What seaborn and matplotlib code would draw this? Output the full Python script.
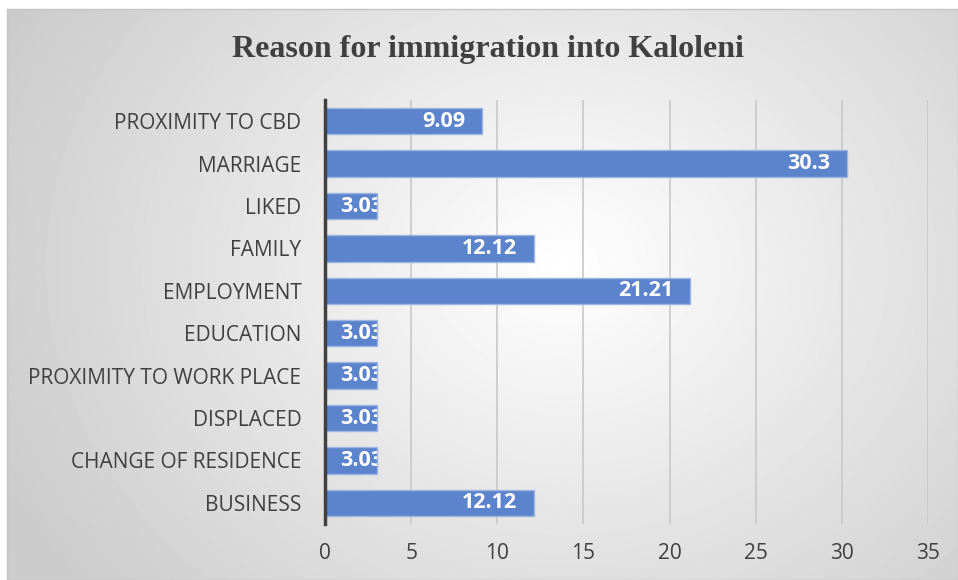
import numpy as np
import pandas as pd
import matplotlib
matplotlib.use('Agg')
import matplotlib.pyplot as plt
import seaborn as sns

# Chart data (top to bottom as shown)
reasons = ['PROXIMITY TO CBD', 'MARRIAGE', 'LIKED', 'FAMILY', 'EMPLOYMENT',
           'EDUCATION', 'PROXIMITY TO WORK PLACE', 'DISPLACED',
           'CHANGE OF RESIDENCE', 'BUSINESS']
percent = [9.09, 30.3, 3.03, 12.12, 21.21, 3.03, 3.03, 3.03, 3.03, 12.12]
x_ticks = [0, 5, 10, 15, 20, 25, 30, 35]
title = 'Reason for immigration into Kaloleni'

df = pd.DataFrame({'reason': reasons, 'percent': percent})

sns.set_theme(style='white')
plt.rcParams['font.family'] = ['Open Sans', 'DejaVu Sans']

W, H = 958, 580
fig = plt.figure(figsize=(W / 100, H / 100), dpi=100)
fig.patch.set_facecolor('white')

# radial gradient background of the chart area
bg_left, bg_top = 7 / W, 9 / H
bg = fig.add_axes([bg_left, 0, 1 - bg_left, 1 - bg_top], zorder=-10)
yy, xx = np.mgrid[0:H, 0:W]
r = np.sqrt(((xx - 560) / 620) ** 2 + ((yy - 260) / 520) ** 2)
shade = 1 - 0.2 * np.clip(r, 0, 1)
bg.imshow(shade, cmap='gray', vmin=0, vmax=1, aspect='auto', interpolation='bilinear')
bg.set_xticks([])
bg.set_yticks([])
for s in bg.spines.values():
    s.set_color('#c4c4c4')
    s.set_linewidth(1)

ax = fig.add_axes([325 / W, 56 / H, 603 / W, 424 / H])
ax.patch.set_alpha(0)

sns.barplot(data=df, y='reason', x='percent', orient='h', color='#5b84cc',
            saturation=1, width=0.62, edgecolor='#9db5e0', linewidth=1, ax=ax, zorder=3)

ax.set_xlim(0, 35)
ax.set_xticks(x_ticks)
ax.set_xticklabels([str(t) for t in x_ticks], fontsize=15, color='#404040')
ax.tick_params(axis='x', length=0, pad=14)
ax.tick_params(axis='y', length=0, pad=17, labelsize=15, labelcolor='#404040')
ax.set_xlabel('')
ax.set_ylabel('')
ax.grid(axis='x', color='#c8c8c8', linewidth=1.2, zorder=0)
ax.set_axisbelow(True)
for side in ['top', 'right', 'bottom']:
    ax.spines[side].set_visible(False)
ax.spines['left'].set_color('#404040')
ax.spines['left'].set_linewidth(2.5)
ax.spines['left'].set_zorder(5)

# value labels, clipped to their bars
for bar, val in zip(ax.patches, percent):
    yc = bar.get_y() + bar.get_height() / 2
    if val < 5:
        t = ax.annotate(f'{val:g}', (0, yc), xytext=(11, 0), textcoords='offset points',
                        ha='left', va='center', color='white', fontsize=15.5, fontweight='bold')
    else:
        t = ax.annotate(f'{val:g}', (val, yc), xytext=(-12, 0), textcoords='offset points',
                        ha='right', va='center', color='white', fontsize=15.5, fontweight='bold')
    t.set_clip_path(bar)
    t.set_zorder(6)

fig.text(488 / W, 1 - 50 / H, title, ha='center', va='center', fontsize=23,
         fontweight='bold', family=['Liberation Serif', 'DejaVu Serif'], color='#404040')

fig.savefig('out.png', dpi=100)
